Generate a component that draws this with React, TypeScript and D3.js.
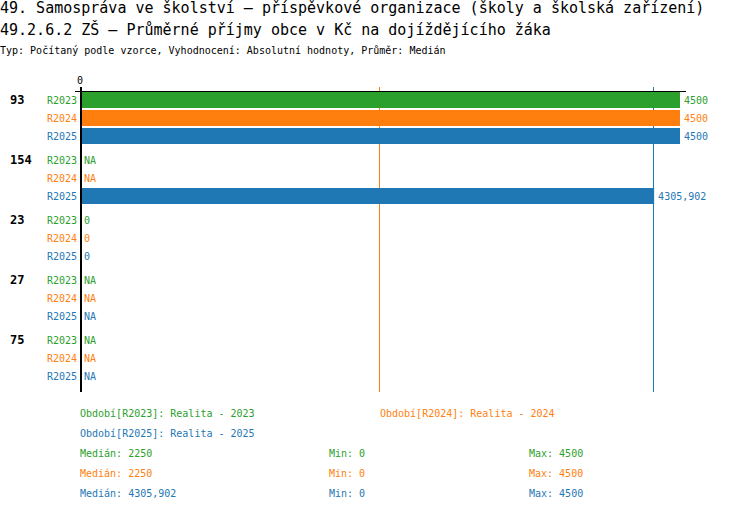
import { useEffect, useRef } from 'react'
import * as d3 from 'd3'

const groups = ['93', '154', '23', '27', '75']
const seriesNames = ['R2023', 'R2024', 'R2025']
const seriesColors = ['#2ca02c', '#ff7f0e', '#1f77b4']
const seriesTitles = ['Realita - 2023', 'Realita - 2024', 'Realita - 2025']
const valuesR2023: (number | null)[] = [4500, null, 0, null, null]
const valuesR2024: (number | null)[] = [4500, null, 0, null, null]
const valuesR2025: (number | null)[] = [4500, 4305.902, 0, null, null]
const seriesValues = [valuesR2023, valuesR2024, valuesR2025]

const title1 = '49. Samospráva ve školství – příspěvkové organizace (školy a školská zařízení)'
const title2 = '49.2.6.2 ZŠ – Průměrné příjmy obce v Kč na dojíždějícího žáka'
const subtitle = 'Typ: Počítaný podle vzorce, Vyhodnocení: Absolutní hodnoty, Průměr: Medián'

const fmt = (v: number) => String(Math.round(v * 1000) / 1000).replace('.', ',')

const App = () => {
  const svgRef = useRef<SVGSVGElement | null>(null)

  useEffect(() => {
    if (!svgRef.current) return
    const svg = d3.select(svgRef.current)
    svg.selectAll('*').remove()

    const font = 'DejaVu Sans Mono'
    const width = 750
    const height = 512

    svg.attr('width', width).attr('height', height)
      .style('display', 'block')
      .style('position', 'absolute')
      .style('left', '0px')
      .style('top', '0px')
    svg.append('rect').attr('width', width).attr('height', height).attr('fill', 'white')

    // titles
    svg.append('text').attr('x', 0).attr('y', 13).attr('font-family', font).attr('font-size', 15).text(title1)
    svg.append('text').attr('x', 0).attr('y', 35).attr('font-family', font).attr('font-size', 15).text(title2)
    svg.append('text').attr('x', 0).attr('y', 54).attr('font-family', font).attr('font-size', 10).text(subtitle)

    const x = d3.scaleLinear().domain([0, 4500]).range([80, 680])
    const groupStep = 60
    const rowStep = 18
    const top = 92
    const y = (gi: number, si: number) => top + gi * groupStep + si * rowStep

    // median lines
    seriesValues.forEach((vals, si) => {
      const med = d3.median(vals.filter((v) => v !== null) as number[])!
      svg.append('line')
        .attr('x1', Math.round(x(med)) - 0.5).attr('x2', Math.round(x(med)) - 0.5)
        .attr('y1', 87).attr('y2', 392)
        .attr('stroke', seriesColors[si]).attr('stroke-width', 1)
        .attr('shape-rendering', 'crispEdges')
    })

    // bars & labels
    groups.forEach((g, gi) => {
      svg.append('text')
        .attr('x', 10).attr('y', y(gi, 0) + 12)
        .attr('font-family', font).attr('font-size', 12).attr('font-weight', 'bold')
        .text(g)
      seriesNames.forEach((s, si) => {
        const v = seriesValues[si][gi]
        const yy = y(gi, si)
        svg.append('text')
          .attr('x', 77).attr('y', yy + 12)
          .attr('text-anchor', 'end')
          .attr('font-family', font).attr('font-size', 10)
          .attr('fill', seriesColors[si])
          .text(s)
        if (v !== null && v > 0) {
          svg.append('rect')
            .attr('x', x(0)).attr('y', yy)
            .attr('width', x(v) - x(0)).attr('height', 16)
            .attr('fill', seriesColors[si])
        }
        svg.append('text')
          .attr('x', v === null || v === 0 ? 84 : x(v) + 4).attr('y', yy + 12)
          .attr('font-family', font).attr('font-size', 10)
          .attr('fill', seriesColors[si])
          .text(v === null ? 'NA' : fmt(v))
      })
    })

    // axes
    svg.append('line').attr('x1', 75).attr('x2', 686).attr('y1', 91.5).attr('y2', 91.5)
      .attr('stroke', 'black').attr('stroke-width', 1).attr('shape-rendering', 'crispEdges')
    svg.append('line').attr('x1', 81).attr('x2', 81).attr('y1', 87).attr('y2', 392)
      .attr('stroke', 'black').attr('stroke-width', 2).attr('shape-rendering', 'crispEdges')
    svg.append('text').attr('x', x(0)).attr('y', 84).attr('text-anchor', 'middle')
      .attr('font-family', font).attr('font-size', 10).text('0')

    // legend
    const legendPos = [[80, 417], [380, 417], [80, 437]]
    seriesNames.forEach((s, si) => {
      svg.append('text')
        .attr('x', legendPos[si][0]).attr('y', legendPos[si][1])
        .attr('font-family', font).attr('font-size', 10)
        .attr('fill', seriesColors[si])
        .text(`Období[${s}]: ${seriesTitles[si]}`)
      const vals = seriesValues[si].filter((v) => v !== null) as number[]
      const yy = 457 + si * 20
      const stats: [number, string][] = [
        [80, `Medián: ${fmt(d3.median(vals)!)}`],
        [329, `Min: ${fmt(d3.min(vals)!)}`],
        [529, `Max: ${fmt(d3.max(vals)!)}`],
      ]
      stats.forEach(([sx, t]) => {
        svg.append('text').attr('x', sx).attr('y', yy)
          .attr('font-family', font).attr('font-size', 10)
          .attr('fill', seriesColors[si]).text(t)
      })
    })
  }, [])

  return <svg ref={svgRef}></svg>
}

export default App
